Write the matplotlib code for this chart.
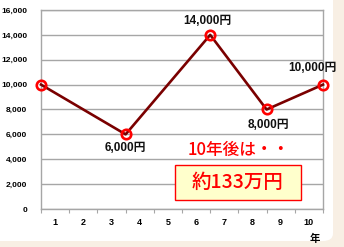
import matplotlib
matplotlib.use("Agg")
import matplotlib.pyplot as plt
from matplotlib.patches import FancyBboxPatch, Rectangle

# ---- data ----
years = [0, 3, 6, 8, 10]
values = [10000, 6000, 14000, 8000, 10000]
point_labels = [None, "6,000円", "14,000円", "8,000円", "10,000円"]
label_offsets = [None, (0, -14), (-3, 14), (2, -16), (-11, 17)]
x_tick_labels = ["1", "2", "3", "4", "5", "6", "7", "8", "9", "10"]
y_ticks = [0, 2000, 4000, 6000, 8000, 10000, 12000, 14000, 16000]
note_text = "10年後は・・"
box_text = "約133万円"
x_unit = "年"

FONT = ["Liberation Sans", "Noto Sans CJK JP", "DejaVu Sans"]
JP = ["Noto Sans CJK JP", "DejaVu Sans"]

W, H = 344, 247
fig = plt.figure(figsize=(W / 100, H / 100), dpi=100)
fig.patch.set_facecolor("#f8efe4")

def fx(px):
    return px / W

def fy(py):
    return 1 - py / H

# white rounded panel
panel = FancyBboxPatch((fx(-10), fy(241)), fx(343), 251 / H,
                       boxstyle="round,pad=0,rounding_size=0.03",
                       transform=fig.transFigure, facecolor="white",
                       edgecolor="none", zorder=-5)
fig.patches.append(panel)

ax = fig.add_axes([fx(41), fy(209), fx(323) - fx(41), (209 - 10) / H])
ax.set_zorder(1)
ax.set_facecolor("white")
ax.set_xlim(0, 10)
ax.set_ylim(0, 16000)

grid_c = "#a6a6a6"
ax.set_yticks(y_ticks)
ax.set_yticklabels([f"{v:,}" for v in y_ticks], fontsize=6, fontweight="bold",
                   family=FONT)
ax.yaxis.grid(True, color=grid_c, linewidth=1.0)
ax.tick_params(axis="y", length=0, pad=10)

ax.set_xticks([i + 0.5 for i in range(10)])
ax.set_xticklabels(x_tick_labels, fontsize=6.5, fontweight="bold", family=FONT)
ax.set_xticks(range(0, 11), minor=True)
ax.tick_params(axis="x", which="major", length=0, pad=6.5)
ax.tick_params(axis="x", which="minor", length=3, color=grid_c, width=0.8)
ax.set_axisbelow(True)

for s in ax.spines.values():
    s.set_color(grid_c)
    s.set_linewidth(1.0)

ax.plot(years, values, color="#7a0000", linewidth=1.9, zorder=3,
        marker="o", markersize=6.8, markerfacecolor="none",
        markeredgecolor="#ff0000", markeredgewidth=1.9, clip_on=False)

for x, v, lab, off in zip(years, values, point_labels, label_offsets):
    if lab is None:
        continue
    ax.annotate(lab, xy=(x, v), xytext=off, textcoords="offset pixels",
                ha="center", va="center", fontsize=8.5, fontweight="bold",
                family=FONT, color="#111111", zorder=5, annotation_clip=False)

fig.text(fx(239), fy(150), note_text, color="#ff0000", fontsize=12,
         ha="center", va="center", family=JP, fontweight="medium", zorder=6)

box = Rectangle((fx(175), fy(200)), fx(301) - fx(175), 35 / H,
                transform=fig.transFigure, facecolor="#ffffcc",
                edgecolor="#ff0000", linewidth=1.0, zorder=5)
fig.patches.append(box)
fig.text(fx(238), fy(182.5), box_text, color="#ff0000", fontsize=14,
         ha="center", va="center", family=JP, fontweight="medium", zorder=6)

fig.text(fx(315), fy(239), x_unit, fontsize=7.5, fontweight="bold",
         ha="center", va="center", family=JP)

fig.savefig("out.png", dpi=100, facecolor=fig.get_facecolor())
